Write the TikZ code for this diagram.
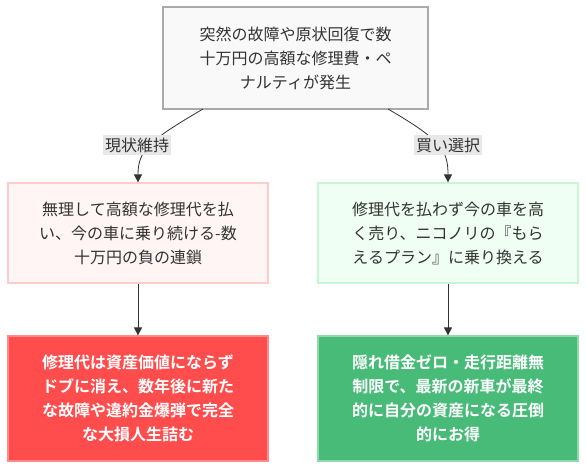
\documentclass[tikz,border=0pt]{standalone}
\usepackage{fontspec}
\newfontfamily\cjk{Noto Sans CJK JP}[BoldFont={Noto Sans CJK JP Bold}]
\usetikzlibrary{arrows.meta}
\definecolor{txt}{HTML}{333333}
\definecolor{edge}{HTML}{333333}
\definecolor{topfill}{HTML}{F9F9F9}
\definecolor{topdraw}{HTML}{AAAAAA}
\definecolor{rfill}{HTML}{FFF5F5}
\definecolor{rdraw}{HTML}{FFCCCC}
\definecolor{gfill}{HTML}{F0FFF4}
\definecolor{gdraw}{HTML}{C6F6D5}
\definecolor{rbad}{HTML}{FF4C4C}
\definecolor{rbaddraw}{HTML}{FF8A8A}
\definecolor{ggood}{HTML}{48BB78}
\definecolor{ggooddraw}{HTML}{8FDAAA}
\definecolor{lblbg}{HTML}{E8E8E8}
\tikzset{
  box/.style={rectangle, line width=1.2pt, align=center, inner sep=0pt,
    font=\cjk\fontsize{16}{24}\selectfont, text=txt},
  topbox/.style={box, fill=topfill, draw=topdraw, minimum width=265pt, minimum height=102pt},
  midbad/.style={box, fill=rfill, draw=rdraw, minimum width=260pt, minimum height=100pt},
  midgood/.style={box, fill=gfill, draw=gdraw, minimum width=260pt, minimum height=100pt},
  endbad/.style={box, fill=rbad, draw=rbaddraw, minimum width=260pt, minimum height=125pt, text=white, font=\cjk\bfseries\fontsize{16}{24}\selectfont},
  endgood/.style={box, fill=ggood, draw=ggooddraw, minimum width=260pt, minimum height=125pt, text=white, font=\cjk\bfseries\fontsize{16}{24}\selectfont},
  lbl/.style={fill=lblbg, inner xsep=2pt, inner ysep=3pt, font=\cjk\fontsize{16}{20}\selectfont, text=txt},
  conn/.style={draw=edge, line width=0.8pt},
  arr/.style={conn, -{Triangle[length=8pt,width=8pt]}}
}
\begin{document}
\begin{tikzpicture}[x=1pt,y=-1pt]
\useasboundingbox (0,0) rectangle (586,470);
\node[topbox] (top) at (295.5,58) {突然の故障や原状回復で数\\十万円の高額な修理費・ペ\\ナルティが発生};
\node[midbad] (keep) at (138,233) {無理して高額な修理代を払\\い、今の車に乗り続ける-数\\十万円の負の連鎖};
\node[midgood] (buy) at (448,233) {修理代を払わず今の車を高\\く売り、ニコノリの『もら\\えるプラン』に乗り換える};
\node[endbad] (bad) at (138,398.5) {修理代は資産価値にならず\\ドブに消え、数年後に新た\\な故障や違約金爆弾で完全\\な大損人生詰む};
\node[endgood] (good) at (448,398.5) {隠れ借金ゼロ・走行距離無\\制限で、最新の新車が最終\\的に自分の資産になる圧倒\\的にお得};
\coordinate (t1) at (203,109);
\coordinate (t2) at (388,109);
\draw[arr] (t1) .. controls (150,140) and (138,150) .. (keep.north);
\draw[arr] (t2) .. controls (441,140) and (448,150) .. (buy.north);
\node[lbl] (l1) at (137,145) {現状維持};
\node[lbl] (l2) at (448,145) {買い選択};
\draw[arr] (keep.south) -- (bad.north);
\draw[arr] (buy.south) -- (good.north);
\end{tikzpicture}
\end{document}
